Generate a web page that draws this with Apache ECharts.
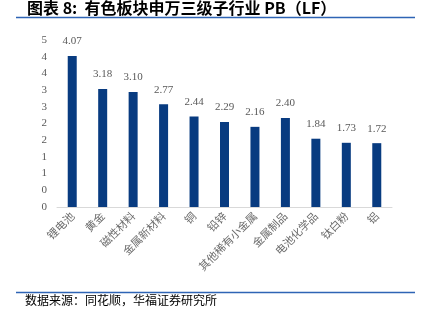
<!DOCTYPE html>
<html>
<head>
<meta charset="utf-8">
<script src="https://cdn.jsdelivr.net/npm/echarts@6/dist/echarts.min.js"></script>
<style>
  html, body { margin: 0; padding: 0; background: #fff; }
  #chart { width: 423px; height: 325px; }
</style>
</head>
<body>
<div id="chart"></div>
<script>
// 有色板块申万三级子行业 PB（LF）
const categories = ['锂电池', '黄金', '磁性材料', '金属新材料', '铜', '铅锌', '其他稀有小金属', '金属制品', '电池化学品', '钛白粉', '铝'];
const pbValues = [4.07, 3.18, 3.10, 2.77, 2.44, 2.29, 2.16, 2.40, 1.84, 1.73, 1.72];
const titleText = '图表 8:  有色板块申万三级子行业 PB（LF）';
const sourceText = '数据来源：同花顺，华福证券研究所';

const chart = echarts.init(document.getElementById('chart'));
chart.setOption({
  animation: false,
  grid: { left: 57, right: 31, top: 40, bottom: 118 },
  xAxis: {
    type: 'category',
    data: categories,
    axisLine: { show: true, lineStyle: { color: '#d9d9d9', width: 1 } },
    axisTick: { show: false },
    axisLabel: {
      rotate: 45,
      interval: 0,
      margin: 7,
      color: '#6b6b6b',
      fontSize: 11,
      fontFamily: 'Noto Sans CJK SC'
    }
  },
  yAxis: {
    type: 'value',
    min: 0,
    max: 4.5,
    interval: 0.45,
    axisLine: { show: false },
    axisTick: { show: false },
    splitLine: { show: false },
    axisLabel: {
      color: '#595959',
      fontSize: 11,
      margin: 10,
      fontFamily: 'Liberation Serif',
      formatter: v => String(Math.round(v))
    }
  },
  series: [{
    type: 'bar',
    data: pbValues,
    barWidth: 9,
    itemStyle: { color: '#083b80' },
    label: {
      show: true,
      position: 'top',
      distance: 9,
      color: '#595959',
      fontSize: 11,
      fontFamily: 'Liberation Serif',
      formatter: p => p.value.toFixed(2)
    }
  }],
  graphic: [
    {
      type: 'text', left: 27, top: 0,
      style: { text: titleText, fill: '#000', font: 'bold 16px "Noto Sans CJK SC"' }
    },
    {
      type: 'line', shape: { x1: 16, y1: 17.5, x2: 415, y2: 17.5 },
      style: { stroke: '#2e64b5', lineWidth: 1.5 }
    },
    {
      type: 'line', shape: { x1: 16, y1: 292.5, x2: 415, y2: 292.5 },
      style: { stroke: '#2e64b5', lineWidth: 1.5 }
    },
    {
      type: 'text', left: 25, top: 294,
      style: { text: sourceText, fill: '#000', font: '12px "Noto Sans CJK SC"' }
    }
  ]
});
</script>
</body>
</html>
